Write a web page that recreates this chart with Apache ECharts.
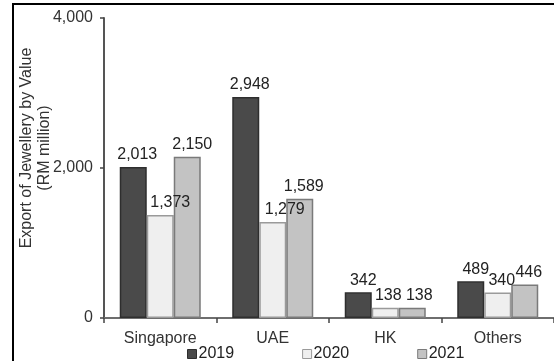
<!DOCTYPE html>
<html>
<head>
<meta charset="utf-8">
<script src="https://cdn.jsdelivr.net/npm/echarts@6/dist/echarts.min.js"></script>
<style>
  html, body { margin: 0; padding: 0; background: #fff; }
  #chart { width: 554px; height: 361px; }
</style>
</head>
<body>
<div id="chart"></div>
<script>
// Export of jewellery by destination (RM million)
var categories = ['Singapore', 'UAE', 'HK', 'Others'];
var years = ['2019', '2020', '2021'];
var values2019 = [2013, 2948, 342, 489];
var values2020 = [1373, 1279, 138, 340];
var values2021 = [2150, 1589, 138, 446];
var yTicks = [0, 2000, 4000];

var FONT = 'Liberation Sans, Arial, sans-serif';
var fills = ['#4a4a4a', '#efefef', '#c3c3c3'];
var borders = ['#2e2e2e', '#9a9a9a', '#7a7a7a'];
var seriesValues = [values2019, values2020, values2021];
// horizontal nudges for value labels so neighbours do not collide
var labelShift = [
  [4, 4, 5, 5],
  [10, 12, 3, 4],
  [5, 4, 7, 4]
];

var chart = echarts.init(document.getElementById('chart'), null, { renderer: 'canvas' });

var series = years.map(function (y, i) {
  return {
    name: y,
    type: 'bar',
    data: seriesValues[i].map(function (v, j) {
      return { value: v, label: { offset: [labelShift[i][j], 0] } };
    }),
    barWidth: 27,
    barGap: '0%',
    itemStyle: { color: fills[i], borderColor: borders[i], borderWidth: 1.5 },
    label: {
      show: true,
      position: 'top',
      distance: 4,
      fontFamily: FONT,
      fontSize: 16,
      color: '#222',
      formatter: function (p) { return p.value.toLocaleString('en-US'); }
    }
  };
});

chart.setOption({
  animation: false,
  backgroundColor: '#fff',
  textStyle: { fontFamily: FONT },
  grid: { left: 104, top: 18, width: 450, height: 300 },
  xAxis: {
    type: 'category',
    data: categories,
    axisLine: { lineStyle: { color: '#6e6e6e', width: 2 } },
    axisTick: { show: true, length: 5, lineStyle: { color: '#444', width: 1.5 } },
    axisLabel: { fontFamily: FONT, fontSize: 16, color: '#333', margin: 13 }
  },
  yAxis: {
    type: 'value',
    min: yTicks[0],
    max: yTicks[yTicks.length - 1],
    interval: yTicks[1] - yTicks[0],
    splitLine: { show: false },
    axisLine: { show: true, lineStyle: { color: '#555', width: 2 } },
    axisTick: { show: true, length: 4, lineStyle: { color: '#444', width: 1.5 } },
    axisLabel: {
      fontFamily: FONT, fontSize: 16, color: '#333', margin: 11,
      formatter: function (v) { return v.toLocaleString('en-US'); }
    }
  },
  legend: {
    data: years.map(function (y, i) {
      return { name: y, itemStyle: { color: fills[i], borderColor: borders[i], borderWidth: 1 } };
    }),
    left: 182,
    top: 341,
    itemWidth: 9,
    itemHeight: 9,
    itemGap: 68,
    icon: 'rect',
    textStyle: { fontFamily: FONT, fontSize: 16, color: '#222', padding: [0, 0, 0, -3] }
  },
  graphic: [
    {
      type: 'text',
      x: 36,
      y: 148,
      rotation: Math.PI / 2,
      style: {
        text: 'Export of Jewellery by Value\n(RM million)',
        fill: '#333',
        font: '16px ' + FONT,
        lineHeight: 18,
        align: 'center',
        verticalAlign: 'middle'
      }
    },
    {
      type: 'line',
      shape: { x1: 12, y1: 4, x2: 554, y2: 4 },
      style: { stroke: '#000', lineWidth: 2 }
    },
    {
      type: 'line',
      shape: { x1: 13, y1: 3, x2: 13, y2: 361 },
      style: { stroke: '#000', lineWidth: 2 }
    }
  ],
  series: series
});
</script>
</body>
</html>
